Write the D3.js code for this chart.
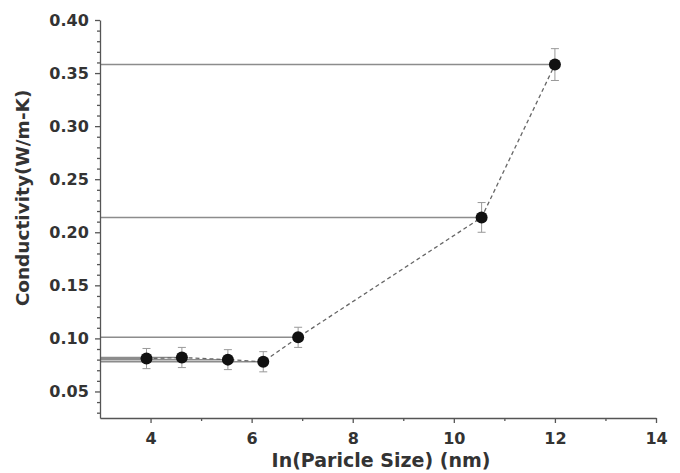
<!DOCTYPE html>
<html>
<head>
<meta charset="utf-8">
<script src="https://cdn.jsdelivr.net/npm/d3@7"></script>
<style>
  body { margin: 0; background: #fff; }
  text { font-family: "DejaVu Sans", "Liberation Sans", Arial, sans-serif; font-weight: bold; }
</style>
</head>
<body>
<div id="chart"></div>
<script>
const width = 680;
const height = 473;
const margin = { top: 20, right: 24, bottom: 55, left: 100 };
const innerWidth = width - margin.left - margin.right;
const innerHeight = height - margin.top - margin.bottom;

// Data
const lnSize = [3.92, 4.62, 5.53, 6.23, 6.92, 10.55, 12.0];
const conductivity = [0.081, 0.082, 0.080, 0.078, 0.101, 0.214, 0.358];
const errorBar = [0.0095, 0.0095, 0.0094, 0.0095, 0.0095, 0.014, 0.015];
const xTicks = [4, 6, 8, 10, 12, 14];
const xMinorTicks = [5, 7, 9, 11, 13];
const yTicks = [0.05, 0.10, 0.15, 0.20, 0.25, 0.30, 0.35, 0.40];

const points = lnSize.map((x, i) => ({ x, y: conductivity[i], e: errorBar[i] }));

const svg = d3.select("#chart")
    .append("svg")
    .attr("width", width)
    .attr("height", height);

const g = svg.append("g")
    .attr("transform", `translate(${margin.left},${margin.top})`);

// Scales
const xScale = d3.scaleLinear()
    .domain([3, 14])
    .range([0, innerWidth]);

const yScale = d3.scaleLinear()
    .domain([0.025, 0.40])
    .range([innerHeight, 0]);

// Horizontal reference lines from the y axis to each point
g.selectAll(".hline")
    .data(points)
    .enter()
    .append("line")
    .attr("class", "hline")
    .attr("x1", 0)
    .attr("x2", d => xScale(d.x))
    .attr("y1", d => yScale(d.y))
    .attr("y2", d => yScale(d.y))
    .attr("stroke", "#8c8c8c")
    .attr("stroke-width", 1.5);

// Dashed connecting line
const line = d3.line()
    .x(d => xScale(d.x))
    .y(d => yScale(d.y));

g.append("path")
    .datum(points)
    .attr("d", line)
    .attr("fill", "none")
    .attr("stroke", "#666")
    .attr("stroke-width", 1.3)
    .attr("stroke-dasharray", "4,3");

// Error bars
const eb = g.selectAll(".err")
    .data(points)
    .enter()
    .append("g")
    .attr("class", "err")
    .attr("stroke", "#999")
    .attr("stroke-width", 1);

eb.append("line")
    .attr("x1", d => xScale(d.x))
    .attr("x2", d => xScale(d.x))
    .attr("y1", d => yScale(d.y - d.e))
    .attr("y2", d => yScale(d.y + d.e));

eb.append("line")
    .attr("x1", d => xScale(d.x) - 4)
    .attr("x2", d => xScale(d.x) + 4)
    .attr("y1", d => yScale(d.y + d.e))
    .attr("y2", d => yScale(d.y + d.e));

eb.append("line")
    .attr("x1", d => xScale(d.x) - 4)
    .attr("x2", d => xScale(d.x) + 4)
    .attr("y1", d => yScale(d.y - d.e))
    .attr("y2", d => yScale(d.y - d.e));

// Markers
g.selectAll("circle")
    .data(points)
    .enter()
    .append("circle")
    .attr("cx", d => xScale(d.x))
    .attr("cy", d => yScale(d.y))
    .attr("r", 6)
    .attr("fill", "#111");

// Axes
const xAxis = g.append("g")
    .attr("transform", `translate(0,${innerHeight})`)
    .call(d3.axisBottom(xScale).tickValues(xTicks).tickFormat(d3.format("d")).tickSize(5).tickSizeOuter(0));

const xMinor = g.append("g")
    .attr("transform", `translate(0,${innerHeight})`)
    .call(d3.axisBottom(xScale).tickValues(xMinorTicks).tickFormat("").tickSize(3).tickSizeOuter(0));
xMinor.select(".domain").remove();
xMinor.selectAll("text").remove();

const yAxis = g.append("g")
    .call(d3.axisLeft(yScale).tickValues(yTicks).tickFormat(d3.format(".2f")).tickSize(5).tickSizeOuter(0));

const yMinorTicks = d3.range(3, 40).map(v => v / 100).filter(v => Math.round(v * 100) % 5 !== 0);
const yMinor = g.append("g")
    .call(d3.axisLeft(yScale).tickValues(yMinorTicks).tickFormat("").tickSize(3).tickSizeOuter(0));
yMinor.select(".domain").remove();
yMinor.selectAll("text").remove();

[xAxis, xMinor, yAxis, yMinor].forEach(a => {
    a.selectAll("path, line").attr("stroke", "#555").attr("stroke-width", 1.3);
});

xAxis.selectAll("text")
    .attr("fill", "#333")
    .style("font-size", "16px")
    .attr("dy", "1.15em");

yAxis.selectAll("text")
    .attr("fill", "#333")
    .style("font-size", "16px")
    .attr("dx", "-0.2em");

// Axis labels
g.append("text")
    .attr("x", innerWidth / 2 + 3)
    .attr("y", innerHeight + 49)
    .attr("text-anchor", "middle")
    .attr("fill", "#333")
    .style("font-size", "19px")
    .text("In(Paricle Size) (nm)");

g.append("text")
    .attr("transform", "rotate(-90)")
    .attr("x", -(198 - margin.top))
    .attr("y", -71)
    .attr("text-anchor", "middle")
    .attr("fill", "#333")
    .style("font-size", "18.5px")
    .text("Conductivity(W/m-K)");
</script>
</body>
</html>
